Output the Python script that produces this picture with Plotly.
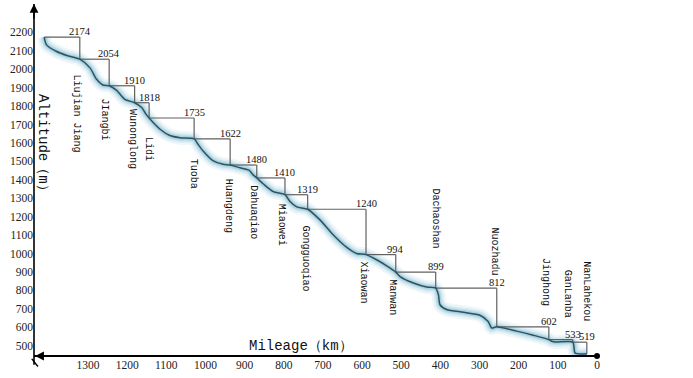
import plotly.graph_objects as go

# ---------------- data ----------------
dam_names = ["Liujian Jiang", "JIangbi", "Wunonglong", "Lidi", "Tuoba", "Huangdeng",
             "Dahuaqiao", "Miaowei", "Gongguoqiao", "Xiaowan", "Manwan", "Dachaoshan",
             "Nuozhadu", "Jinghong", "GanLanba", "NanLahekou"]
dam_km = [1321, 1246, 1181, 1144, 1029, 937, 869, 797, 739, 590, 514, 412, 256, 123, 62, 26]
dam_level = [2174, 2054, 1910, 1818, 1735, 1622, 1480, 1410, 1319, 1240, 994, 899, 812, 602, 533, 519]

# river bed profile (km, m)
bed_km = [1412, 1406, 1380, 1354, 1321,
          1295, 1278, 1262, 1246,
          1227, 1206, 1181,
          1163, 1153, 1144,
          1116, 1091, 1065, 1029,
          1019, 1006, 981, 955, 937,
          912, 889, 879, 869,
          852, 827, 797,
          784, 767, 739,
          707, 674, 639, 614, 590,
          563, 537, 514,
          503, 469, 435, 412,
          405, 401, 384, 341, 299, 278, 269, 256,
          205, 163, 123,
          116, 105, 62,
          56, 40, 26]
bed_alt = [2174, 2132, 2096, 2074, 2054,
           2007, 1945, 1914, 1910,
           1885, 1836, 1818,
           1792, 1759, 1735,
           1674, 1640, 1628, 1622,
           1592, 1556, 1504, 1484, 1480,
           1465, 1452, 1428, 1410,
           1377, 1336, 1319,
           1282, 1253, 1240,
           1181, 1102, 1033, 1000, 994,
           966, 933, 899,
           875, 840, 818, 812,
           776, 722, 696, 681, 665, 631, 596, 602,
           579, 557, 533,
           524, 519.5, 519,
           460, 455, 455]

x_ticks = [1300, 1200, 1100, 1000, 900, 800, 700, 600, 500, 400, 300, 200, 100, 0]
y_ticks = [500, 600, 700, 800, 900, 1000, 1100, 1200, 1300, 1400, 1500, 1600, 1700,
           1800, 1900, 2000, 2100, 2200]

x_title = "Mileage（km）"
y_title = "Altitude（m）"

# ---------------- styling ----------------
# (xshift px, yshift px, placement) for each station name
name_style = [(-3, -13, "below"), (-5, -11, "below"), (-2, -4, "below"), (0, -17, "below"),
              (-1, -18, "below"), (-1, -12, "below"), (-4, -5, "below"), (-4, -7, "below"),
              (-2, -14, "below"), (-3, -5, "below"), (-3, -5, "below"), (0, 22, "above"),
              (-2, 11, "above"), (-4, 19, "above"), (-5, 20, "above"), (0, 19, "above")]

SERIF = "Liberation Serif"
MONO = "Liberation Mono"

n = len(dam_km)
fig = go.Figure()

# river bed with soft glow
for w, c in [(14, "rgba(205,230,238,0.30)"), (10, "rgba(190,222,232,0.40)"),
             (6.5, "rgba(170,210,224,0.50)"), (4, "rgba(150,198,216,0.55)")]:
    fig.add_trace(go.Scatter(x=bed_km, y=bed_alt, mode="lines",
                             line=dict(color=c, width=w, shape="spline", smoothing=0.7),
                             hoverinfo="skip", showlegend=False))

# reservoir (horizontal) lines and dam (vertical) lines
hx, hy, vx, vy = [], [], [], []
for i in range(n):
    x0 = bed_km[0] if i == 0 else dam_km[i - 1]
    hx += [x0, dam_km[i], None]
    hy += [dam_level[i], dam_level[i], None]
    foot = dam_level[i + 1] if i < n - 1 else bed_alt[-1]
    vx += [dam_km[i], dam_km[i], None]
    vy += [dam_level[i], foot, None]
fig.add_trace(go.Scatter(x=hx, y=hy, mode="lines", line=dict(color="#606060", width=1.2),
                         hoverinfo="skip", showlegend=False))
fig.add_trace(go.Scatter(x=vx, y=vy, mode="lines", line=dict(color="#606060", width=1.2),
                         hoverinfo="skip", showlegend=False))

fig.add_trace(go.Scatter(x=bed_km, y=bed_alt, mode="lines",
                         line=dict(color="#2d5361", width=1.5, shape="spline", smoothing=0.7),
                         hoverinfo="skip", showlegend=False))

# end dot at 0 km
fig.add_trace(go.Scatter(x=[0], y=[444], mode="markers", cliponaxis=False,
                         marker=dict(color="black", size=6), hoverinfo="skip", showlegend=False))

ann = []
for i in range(n):
    ann.append(dict(x=dam_km[i], y=dam_level[i], text=str(dam_level[i]), showarrow=False,
                    xanchor="center", yanchor="bottom", yshift=-2,
                    font=dict(family=SERIF, size=10.5, color="#111")))
    xs, ys, place = name_style[i]
    if place == "below":
        yv = dam_level[i + 1] if i < n - 1 else bed_alt[-1]
        ya = "top"
    else:
        yv = dam_level[i]
        ya = "bottom"
    ann.append(dict(x=dam_km[i], y=yv, text=dam_names[i], showarrow=False, textangle=90,
                    xanchor="center", yanchor=ya, xshift=xs, yshift=ys,
                    font=dict(family=MONO, size=10, color="#111")))

# axis titles
ann.append(dict(xref="paper", yref="paper", x=0, y=0.75, xshift=9, text=y_title,
                showarrow=False, textangle=90, xanchor="center", yanchor="top",
                font=dict(family=MONO, size=14, color="#111")))
ann.append(dict(xref="paper", yref="paper", x=0.474, y=0, yshift=10, text=x_title,
                showarrow=False, xanchor="center", yanchor="middle",
                font=dict(family=MONO, size=14, color="#111")))
# axis arrows
ann.append(dict(xref="paper", yref="paper", x=0, y=1.0, ax=0, ay=16, text="",
                showarrow=True, arrowhead=2, arrowsize=1.1, arrowwidth=1.6, arrowcolor="black",
                standoff=0))
ann.append(dict(xref="paper", yref="paper", x=0.002, y=0, ax=16, ay=0, text="",
                showarrow=True, arrowhead=2, arrowsize=1.1, arrowwidth=1.6, arrowcolor="black",
                standoff=0))

shapes = [
    dict(type="line", xref="paper", yref="paper", x0=0, x1=1, y0=0, y1=0,
         line=dict(color="black", width=2)),
    dict(type="line", xref="paper", yref="paper", x0=0, x1=0, y0=-0.025, y1=1,
         line=dict(color="black", width=1.6)),
    dict(type="line", xref="paper", yref="paper", x0=-0.004, x1=0.007, y0=-0.008, y1=-0.03,
         line=dict(color="black", width=1.4)),
]

fig.update_layout(
    width=693, height=378,
    margin=dict(l=34, r=96, t=4, b=22),
    paper_bgcolor="white", plot_bgcolor="white",
    showlegend=False,
    annotations=ann, shapes=shapes,
    xaxis=dict(range=[1438, 0], tickvals=x_ticks, ticktext=[str(v) for v in x_ticks],
               showgrid=False, zeroline=False, showline=False, ticks="",
               tickfont=dict(family=SERIF, size=11.5, color="#222")),
    yaxis=dict(range=[444, 2353.5], tickvals=y_ticks, ticktext=[str(v) for v in y_ticks],
               showgrid=False, zeroline=False, showline=False, ticks="",
               tickfont=dict(family=SERIF, size=11.5, color="#222")),
)

fig.write_html("out.html", config={"displayModeBar": False},
               post_script="document.body.style.margin='0';document.body.style.padding='0';"
                           "document.body.style.overflow='hidden';")
